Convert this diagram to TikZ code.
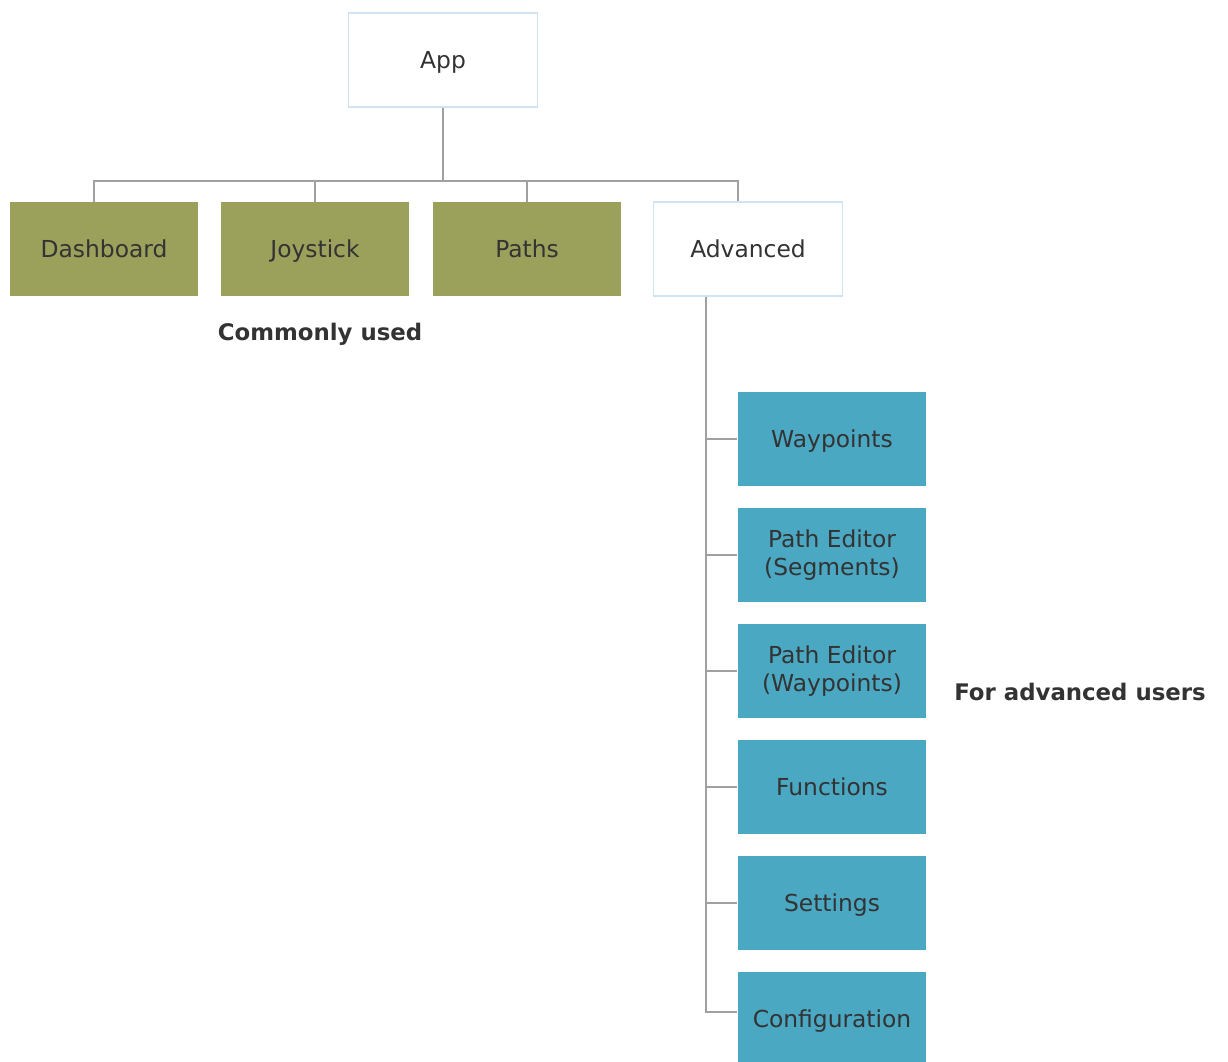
\documentclass[tikz,border=0pt]{standalone}
\usepackage{fontspec}
\setmainfont{DejaVu Sans}
\definecolor{olivebox}{HTML}{9BA15B}
\definecolor{bluebox}{HTML}{4AA8C3}
\definecolor{framebl}{HTML}{CFE3F2}
\definecolor{linegray}{HTML}{A0A0A0}
\definecolor{txtgray}{HTML}{333333}
\tikzset{
  box/.style={rectangle,minimum width=3.78cm,minimum height=1.88cm,align=center,
    text=txtgray,font=\fontsize{13.3}{16}\selectfont,inner sep=2pt},
  single/.style={text depth=0pt},
  topbox/.style={box,single,draw=framebl,line width=1pt,fill=white},
  common/.style={box,single,fill=olivebox},
  advbox/.style={box,fill=bluebox},
  conn/.style={draw=linegray,line width=1.1pt},
  note/.style={text=txtgray,font=\bfseries\fontsize{13}{16}\selectfont}
}
\begin{document}
\begin{tikzpicture}[x=0.02cm,y=-0.02cm]
    \useasboundingbox (0,0) rectangle (1228,1062);
    % top level
    \node[topbox] (app) at (443,60) {App};
    \node[common] (dash) at (104,249) {Dashboard};
    \node[common] (joy) at (315,249) {Joystick};
    \node[common] (paths) at (527,249) {Paths};
    \node[topbox] (adv) at (748,249) {Advanced};
    \node[note] (common) at (320,334) {Commonly used};
    % advanced pages
    \node[advbox,single] (wp) at (832,439) {Waypoints};
    \node[advbox] (pes) at (832,555) {Path Editor\\(Segments)};
    \node[advbox] (pew) at (832,671) {Path Editor\\(Waypoints)};
    \node[advbox,single] (func) at (832,787) {Functions};
    \node[advbox,single] (set) at (832,903) {Settings};
    \node[advbox,single] (conf) at (832,1019) {Configuration};
    \node[note] (advnote) at (1080,692) {For advanced users};
    % tree lines
    \coordinate (busL) at (94,181);
    \coordinate (busR) at (738,181);
    \coordinate (trunk) at (706,1012);
    \draw[conn] (app.south) -- (app.south |- busL);
    \draw[conn] (busL |- dash.north) -- (busL) -- (busR) -- (busR |- adv.north);
    \draw[conn] (joy.north) -- (joy.north |- busL);
    \draw[conn] (paths.north) -- (paths.north |- busL);
    \draw[conn] (trunk |- adv.south) -- (trunk) -- (conf.west |- trunk);
    \foreach \n in {wp,pes,pew,func,set}
        \draw[conn] (trunk |- \n.west) -- (\n.west);
\end{tikzpicture}
\end{document}
